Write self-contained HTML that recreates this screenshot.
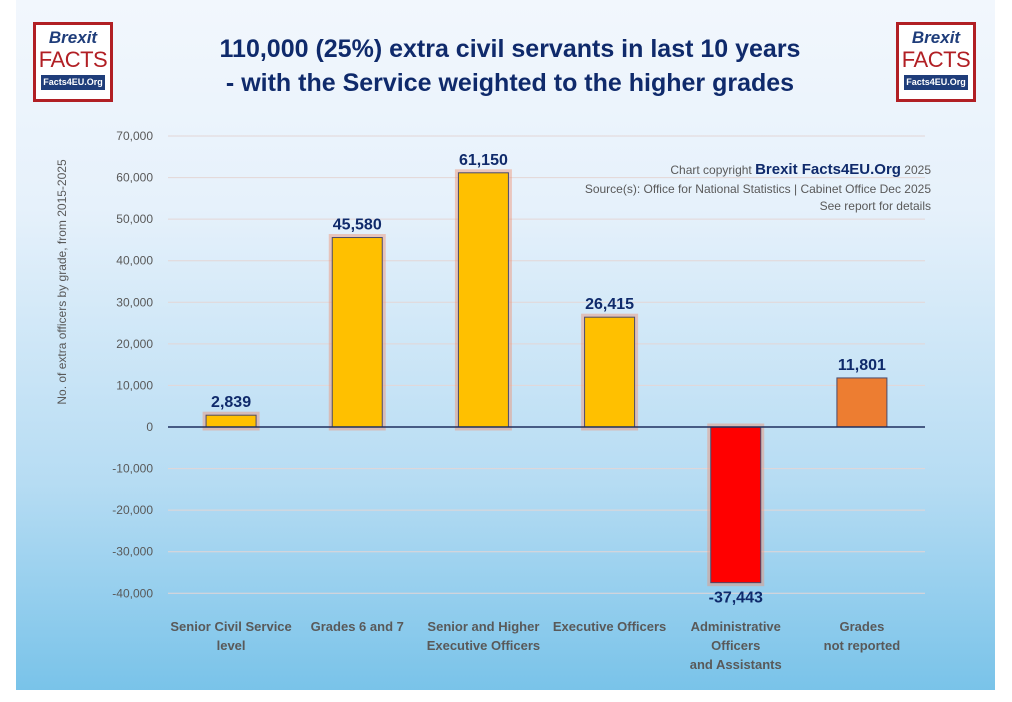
<!DOCTYPE html>
<html><head><meta charset="utf-8"><style>
body{margin:0;width:1012px;height:702px;background:#fff;overflow:hidden;font-family:"Liberation Sans",sans-serif}
#panel{position:absolute;left:16px;top:0;width:979px;height:690px;background:linear-gradient(#f2f7fd 0%,#e6f1fb 30%,#b6dcf3 70%,#79c3e9 100%)}
.logo{position:absolute;top:22px;width:80px;height:80px;border:3px solid #b11f24;box-sizing:border-box;background:#fff;text-align:center;overflow:hidden}
.logo .b{color:#1f3d7a;font-weight:bold;font-style:italic;font-size:17px;margin-top:4px;line-height:18px}
.logo .f{color:#b11f24;font-size:22px;line-height:25px;letter-spacing:-0.5px}
.logo .o{background:#1f3d7a;color:#fff;font-size:9px;font-weight:bold;margin:3px 5px 0;line-height:15px;white-space:nowrap}
.title{position:absolute;left:150px;width:720px;top:32px;text-align:center;color:#0f2a6b;font-weight:bold;font-size:25px;line-height:34px}
svg{position:absolute;left:0;top:0}
</style></head><body>
<div id="panel"></div>
<div class="logo" style="left:33px"><div class="b">Brexit</div><div class="f">FACTS</div><div class="o">Facts4EU.Org</div></div>
<div class="logo" style="left:896px"><div class="b">Brexit</div><div class="f">FACTS</div><div class="o">Facts4EU.Org</div></div>
<div class="title">110,000 (25%) extra civil servants in last 10 years<br>- with the Service weighted to the higher grades</div>
<svg id="chart" width="1012" height="702"></svg>
<script>
const categories=[["Senior Civil Service","level"],["Grades 6 and 7"],["Senior and Higher","Executive Officers"],["Executive Officers"],["Administrative","Officers","and Assistants"],["Grades","not reported"]];
const values=[2839,45580,61150,26415,-37443,11801];
const valueLabels=["2,839","45,580","61,150","26,415","-37,443","11,801"];
const ticks=[70000,60000,50000,40000,30000,20000,10000,0,-10000,-20000,-30000,-40000];
const tickLabels=["70,000","60,000","50,000","40,000","30,000","20,000","10,000","0","-10,000","-20,000","-30,000","-40,000"];
const colors=["#ffc000","#ffc000","#ffc000","#ffc000","#ff0000","#ed7d31"];
const NS="http://www.w3.org/2000/svg";
const svg=document.getElementById('chart');
const y=v=>427-v*(41.57/10000);
const x0=168,x1=925,step=(x1-x0)/categories.length;
const cx=i=>x0+step*(i+0.5);
function mk(t,a){const e=document.createElementNS(NS,t);for(const k in a)e.setAttribute(k,a[k]);svg.appendChild(e);return e;}
ticks.forEach((t,i)=>{
 if(t!==0){const g=mk('line',{x1:x0,x2:x1,y1:y(t),y2:y(t),stroke:'#e3d6d6','stroke-width':1});
 
 }
 const tl=mk('text',{x:153,y:y(t)+4,'text-anchor':'end','font-size':12,fill:'#595959'});
 tl.textContent=tickLabels[i];
 
 
});
values.forEach((v,i)=>{
 const top=Math.min(y(v),y(0)),h=Math.abs(y(v)-y(0));
 if(i!==5){const gl=mk('rect',{x:cx(i)-25,y:top,width:50,height:h,fill:'none',stroke:'#f09070','stroke-width':7,'stroke-opacity':0.45});
 
 }
 const r=mk('rect',{x:cx(i)-25,y:top,width:50,height:h,fill:colors[i],stroke:'#4a4a6a','stroke-width':1});
 
 
 const ly=v>=0?y(v)-8:y(v)+20;
 const t=mk('text',{x:cx(i),y:ly,'text-anchor':'middle','font-size':16,'font-weight':'bold',fill:'#0f2a6b'});
 t.textContent=valueLabels[i];
 
 
 categories[i].forEach((s,j)=>{
  const c=mk('text',{x:cx(i),y:631+j*19,'text-anchor':'middle','font-size':13,'font-weight':'bold',fill:'#595959'});
  c.textContent=s;
  
  
 });
});
const ax=mk('line',{x1:x0,x2:x1,y1:y(0),y2:y(0),stroke:'#1f2f5f','stroke-width':1.5});


const yt=mk('text',{x:0,y:0,transform:'translate(66,282) rotate(-90)','text-anchor':'middle','font-size':12,fill:'#595959'});
yt.textContent='No. of extra officers by grade, from 2015-2025';


const src=[['Chart copyright ','Brexit Facts4EU.Org',' 2025',174],['Source(s): Office for National Statistics | Cabinet Office Dec 2025','','',193],['See report for details','','',210]];
src.forEach(s=>{
 const t=mk('text',{x:931,y:s[3],'text-anchor':'end','font-size':12,fill:'#595959'});
 
 
 const a=document.createElementNS(NS,'tspan');a.textContent=s[0];t.appendChild(a);
 if(s[1]){const b=document.createElementNS(NS,'tspan');b.setAttribute('font-size','15');b.setAttribute('font-weight','bold');b.setAttribute('fill','#0f2a6b');b.textContent=s[1];t.appendChild(b);
 const c=document.createElementNS(NS,'tspan');c.textContent=s[2];t.appendChild(c);}
});
</script>
</body></html>
